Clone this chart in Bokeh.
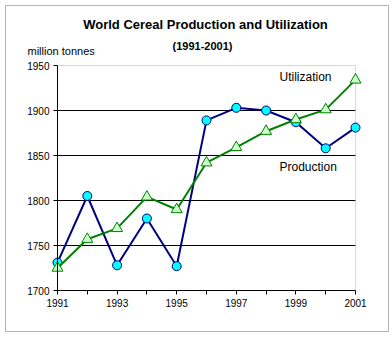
from bokeh.plotting import figure
from bokeh.models import FixedTicker, Label, BoxAnnotation
from bokeh.embed import file_html
from bokeh.resources import INLINE

years = [1991, 1992, 1993, 1994, 1995, 1996, 1997, 1998, 1999, 2000, 2001]
production = [1731, 1805, 1728, 1780, 1727, 1889, 1903, 1900, 1887, 1858, 1881]
utilization = [1725, 1757, 1769, 1804, 1790, 1842, 1859, 1877, 1890, 1901, 1934]
y_ticks = [1700, 1750, 1800, 1850, 1900, 1950]
x_tick_labels = {y: (str(y) if y % 2 == 1 else "") for y in years}

W, H = 392, 337
L, R, T, B = 57, 355, 65, 290          # pixel edges of the plotting area
X0, X1, Y0, Y1 = 1991, 2001, 1700, 1950

def xd(px):
    return X0 + (px - L) * (X1 - X0) / (R - L)

def yd(py):
    return Y1 - (py - T) * (Y1 - Y0) / (B - T)

p = figure(width=W, height=H, output_backend="svg", toolbar_location=None,
           x_range=(xd(0), xd(W)), y_range=(yd(H), yd(0)),
           min_border_left=0, min_border_right=0,
           min_border_top=0, min_border_bottom=0)
p.background_fill_color = "white"
p.border_fill_color = "white"
p.outline_line_color = None

font = "Liberation Sans"
for ax in (p.xaxis[0], p.yaxis[0]):
    ax.axis_line_color = "black"
    ax.axis_line_width = 1
    ax.major_tick_line_color = "black"
    ax.major_tick_in = 0
    ax.major_tick_out = 4
    ax.minor_tick_line_color = None
    ax.major_label_text_font = font
    ax.major_label_text_font_size = "10px"
    ax.major_label_text_color = "black"
    ax.major_label_standoff = 4

p.xaxis.fixed_location = Y0
p.xaxis.bounds = (X0, X1)
p.yaxis.fixed_location = X0
p.yaxis.bounds = (Y0, Y1)
p.xaxis.ticker = FixedTicker(ticks=years)
p.xaxis.major_label_overrides = x_tick_labels
p.yaxis.ticker = FixedTicker(ticks=y_ticks)
p.xgrid.grid_line_color = None
p.ygrid.ticker = FixedTicker(ticks=y_ticks[1:-1])
p.ygrid.grid_line_color = "black"
p.ygrid.grid_line_width = 1
p.ygrid.bounds = (Y0, Y1)
p.ygrid.cross_bounds = (X0, X1)

# plot-area outline (grey top/right; axes drawn over left/bottom)
p.add_layout(BoxAnnotation(left=X0, right=X1, bottom=Y0, top=Y1, level="underlay",
                           fill_alpha=0, line_color="#808080", line_width=1))

p.line(years, production, line_color="#000080", line_width=2)
p.scatter(years, production, marker="circle", size=9,
          fill_color="#00FFFF", line_color="#000080", line_width=1)
p.line(years, utilization, line_color="#008000", line_width=2)
p.scatter(years, utilization, marker="triangle", size=11,
          fill_color="#CCFFCC", line_color="#008000", line_width=1)

def lab(text, px, py, size="10px", style="normal", align="center"):
    p.add_layout(Label(x=xd(px), y=yd(py), text=text, text_font=font,
                       text_font_size=size, text_font_style=style,
                       text_align=align, text_baseline="middle",
                       text_color="black"))

lab("World Cereal Production and Utilization", 205, 24, "13px", "bold")
lab("(1991-2001)", 202, 45, "11px", "bold")
lab("million tonnes", 27, 50, "11px", "normal", "left")
lab("Utilization", 279, 76, "12px", "normal", "left")
lab("Production", 279, 166, "12px", "normal", "left")

# outer chart border
p.add_layout(BoxAnnotation(left=xd(5), right=xd(388), top=yd(5), bottom=yd(331),
                           fill_alpha=0, line_color="black", line_width=1))

open("out.html", "w").write(file_html(p, INLINE))
